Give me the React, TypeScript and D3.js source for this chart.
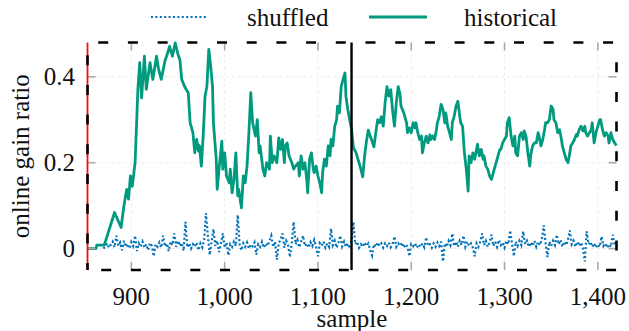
import * as d3 from 'd3';

// historical: [sample, online gain ratio]
const historical: [number, number][] = [
  [853, 0.0], [862, 0.0], [863, 0.008], [871, 0.008], [882, 0.084], [889, 0.049], [892, 0.099],
  [895, 0.138], [897, 0.115], [899, 0.169], [901, 0.145], [904, 0.2], [907, 0.371], [909, 0.433],
  [911, 0.351], [914, 0.448], [916, 0.371], [920, 0.433], [923, 0.394], [927, 0.448], [929, 0.42],
  [932, 0.394], [936, 0.437], [939, 0.456], [941, 0.471], [944, 0.448], [947, 0.479], [950, 0.452],
  [952, 0.44], [954, 0.394], [957, 0.378], [959, 0.37], [961, 0.363], [963, 0.293], [966, 0.27],
  [968, 0.223], [970, 0.254], [972, 0.227], [973, 0.24], [975, 0.192], [977, 0.262], [979, 0.355],
  [981, 0.378], [983, 0.464], [985, 0.425], [987, 0.378], [988, 0.293], [991, 0.208], [992, 0.138],
  [994, 0.185], [997, 0.25], [998, 0.185], [1000, 0.223], [1002, 0.169], [1005, 0.153], [1006, 0.185],
  [1008, 0.13], [1010, 0.161], [1012, 0.223], [1014, 0.123], [1015, 0.138], [1018, 0.095], [1020, 0.169],
  [1022, 0.153], [1024, 0.192], [1026, 0.27], [1028, 0.363], [1030, 0.293], [1033, 0.262], [1035, 0.3],
  [1037, 0.223], [1038, 0.239], [1041, 0.185], [1043, 0.169], [1045, 0.2], [1048, 0.185], [1049, 0.262],
  [1051, 0.2], [1053, 0.216], [1056, 0.2], [1058, 0.258], [1060, 0.231], [1062, 0.254], [1064, 0.2],
  [1065, 0.239], [1067, 0.246], [1069, 0.216], [1072, 0.2], [1074, 0.185], [1076, 0.192], [1079, 0.2],
  [1080, 0.169], [1082, 0.216], [1084, 0.185], [1086, 0.2], [1088, 0.161], [1089, 0.13], [1091, 0.208],
  [1093, 0.223], [1095, 0.185], [1096, 0.177], [1098, 0.192], [1100, 0.169], [1102, 0.153], [1104, 0.13],
  [1105, 0.177], [1107, 0.208], [1109, 0.192], [1111, 0.239], [1113, 0.216], [1114, 0.254], [1116, 0.239],
  [1118, 0.285], [1120, 0.3], [1121, 0.332], [1123, 0.316], [1125, 0.378], [1127, 0.394], [1129, 0.409],
  [1130, 0.355], [1132, 0.324], [1134, 0.3], [1136, 0.278], [1138, 0.235], [1141, 0.222], [1144, 0.2],
  [1146, 0.185], [1148, 0.167], [1150, 0.216], [1152, 0.25], [1154, 0.276], [1156, 0.262], [1158, 0.25],
  [1160, 0.237], [1162, 0.27], [1164, 0.3], [1166, 0.293], [1168, 0.307], [1170, 0.285], [1172, 0.34],
  [1174, 0.377], [1176, 0.355], [1178, 0.37], [1180, 0.322], [1182, 0.285], [1184, 0.34], [1186, 0.377],
  [1188, 0.36], [1189, 0.332], [1192, 0.316], [1195, 0.293], [1196, 0.27], [1198, 0.281], [1200, 0.27],
  [1202, 0.293], [1204, 0.281], [1205, 0.293], [1207, 0.27], [1209, 0.254], [1211, 0.262], [1212, 0.223],
  [1214, 0.246], [1216, 0.262], [1218, 0.246], [1220, 0.265], [1221, 0.254], [1223, 0.262], [1225, 0.254],
  [1227, 0.277], [1228, 0.293], [1230, 0.308], [1232, 0.336], [1234, 0.324], [1236, 0.293], [1237, 0.316],
  [1239, 0.285], [1241, 0.27], [1243, 0.254], [1244, 0.293], [1246, 0.308], [1248, 0.332], [1250, 0.343],
  [1252, 0.308], [1253, 0.293], [1255, 0.285], [1257, 0.223], [1259, 0.185], [1261, 0.134], [1262, 0.216],
  [1264, 0.2], [1266, 0.223], [1268, 0.208], [1270, 0.231], [1271, 0.243], [1273, 0.216], [1275, 0.231],
  [1277, 0.208], [1278, 0.216], [1280, 0.192], [1282, 0.185], [1284, 0.169], [1286, 0.161], [1287, 0.169],
  [1289, 0.185], [1291, 0.2], [1293, 0.216], [1295, 0.231], [1296, 0.231], [1298, 0.246], [1300, 0.254],
  [1302, 0.262], [1303, 0.293], [1305, 0.305], [1307, 0.262], [1309, 0.239], [1311, 0.262], [1312, 0.223],
  [1314, 0.216], [1316, 0.262], [1318, 0.27], [1320, 0.254], [1321, 0.274], [1323, 0.262], [1325, 0.223],
  [1327, 0.192], [1328, 0.216], [1330, 0.239], [1332, 0.246], [1334, 0.246], [1336, 0.27], [1337, 0.262],
  [1339, 0.239], [1341, 0.254], [1343, 0.278], [1344, 0.293], [1346, 0.293], [1348, 0.3], [1350, 0.332],
  [1352, 0.324], [1353, 0.3], [1355, 0.293], [1357, 0.27], [1359, 0.277], [1361, 0.254], [1362, 0.239],
  [1364, 0.223], [1366, 0.208], [1368, 0.2], [1370, 0.223], [1371, 0.239], [1373, 0.246], [1375, 0.254],
  [1377, 0.266], [1378, 0.262], [1380, 0.277], [1382, 0.285], [1384, 0.274], [1386, 0.285], [1387, 0.27],
  [1389, 0.262], [1391, 0.27], [1393, 0.277], [1394, 0.293], [1396, 0.246], [1398, 0.27], [1400, 0.285],
  [1402, 0.3], [1403, 0.3], [1405, 0.277], [1407, 0.262], [1409, 0.27], [1411, 0.262], [1412, 0.246],
  [1414, 0.27], [1416, 0.254], [1418, 0.246], [1420, 0.24],
];

// shuffled: one value every 2 samples from 870
const shuffledStart = 870;
const shuffledStep = 2;
const shuffledValues = [
  0.0, 0.004, 0.012, 0.002, 0.009, 0.016, 0.003, 0.03, 0.006, 0.014,
  -0.004, 0.018, 0.004, 0.011, 0.0, 0.015, 0.006, 0.03, -0.006, 0.012,
  0.004, 0.016, 0.002, 0.01, -0.004, 0.013, 0.006, -0.018, 0.01, 0.004,
  0.014, 0.002, 0.03, 0.005, 0.012, -0.006, 0.016, 0.008, 0.035, 0.004,
  0.018, 0.006, 0.013, -0.005, 0.062, 0.003, 0.012, 0.0, 0.01, 0.004,
  0.014, -0.004, 0.012, 0.003, 0.02, 0.082, 0.03, -0.015, 0.016, 0.045,
  0.006, 0.018, -0.008, 0.012, 0.035, 0.002, 0.014, -0.016, 0.01, 0.004,
  0.016, 0.006, 0.078, 0.01, -0.004, 0.012, 0.004, 0.014, 0.0, 0.01,
  0.005, 0.014, -0.014, 0.01, 0.004, 0.016, 0.002, 0.012, 0.006, 0.018,
  0.03, 0.004, 0.016, -0.026, 0.012, 0.022, 0.035, 0.002, 0.018, 0.008,
  -0.02, 0.014, 0.062, 0.01, 0.02, 0.003, 0.016, 0.03, 0.006, 0.012,
  0.002, 0.015, 0.006, 0.02, 0.004, -0.018, 0.012, 0.006, 0.016, 0.002,
  0.012, 0.004, 0.046, 0.008, 0.018, 0.002, 0.014, 0.03, 0.005, 0.016,
  0.004, 0.012, 0.0, 0.02, 0.062, 0.01, 0.016, 0.002, 0.01, 0.004,
  0.014, 0.006, 0.012, -0.004, -0.016, 0.01, 0.004, 0.014, 0.006, 0.012,
  0.002, 0.012, 0.006, 0.014, 0.003, 0.01, 0.028, 0.004, 0.012, 0.006,
  0.014, 0.002, 0.01, 0.004, -0.018, 0.01, 0.005, 0.012, 0.002, 0.01,
  0.004, 0.012, 0.003, 0.026, 0.006, 0.01, 0.002, 0.012, 0.004, 0.014,
  0.006, 0.016, -0.03, 0.012, 0.004, 0.018, 0.008, 0.035, 0.006, 0.016,
  0.004, 0.018, 0.008, 0.03, 0.004, 0.016, 0.006, 0.012, 0.002, -0.018,
  0.012, 0.004, 0.016, 0.035, 0.008, 0.018, 0.004, 0.014, 0.032, 0.006,
  0.016, 0.004, 0.02, 0.008, 0.014, 0.002, 0.018, 0.01, 0.042, 0.012,
  -0.018, 0.016, 0.006, 0.018, 0.008, 0.04, 0.01, 0.018, 0.004, 0.014,
  0.006, 0.018, 0.004, 0.016, 0.008, 0.022, 0.054, 0.012, -0.02, 0.016,
  0.006, 0.018, 0.008, 0.032, 0.01, 0.02, 0.004, 0.016, 0.008, 0.02,
  0.042, 0.01, 0.018, 0.004, 0.016, 0.006, 0.014, 0.002, -0.03, 0.04,
  0.01, 0.016, 0.004, 0.012, 0.002, 0.01, 0.004, 0.028, 0.006, 0.012,
  0.002, 0.01, 0.004, 0.032, 0.008, 0.012,
];

const xTicks = [900, 1000, 1100, 1200, 1300, 1400];
const yTicks = [0, 0.2, 0.4];
const xDomain = [853, 1420];
const yDomain = [-0.05, 0.48];
const redMarker = 853;
const blackMarker = 1136;
const legendItems = ['shuffled', 'historical'];

const GREEN = '#009a7e';
const BLUE = '#0072b8';
const W = 629;
const H = 331;
const m = { top: 42.5, right: 12.5, bottom: 61, left: 87.5 };
const font = { fontFamily: "'Liberation Serif'", fontSize: 25, fill: '#111' };

export default function App() {
  const x0 = m.left;
  const x1 = W - m.right;
  const y0 = m.top;
  const y1 = H - m.bottom;
  const x = d3.scaleLinear().domain(xDomain).range([x0, x1]);
  const y = d3.scaleLinear().domain(yDomain).range([y1, y0]);
  const line = d3
    .line<[number, number]>()
    .x((d) => x(d[0]))
    .y((d) => y(d[1]));
  const shuffled = shuffledValues.map((v, i) => [shuffledStart + i * shuffledStep, v] as [number, number]);
  const fx = d3.format(',');
  const fy = d3.format('~g');
  const dash = '10 19.7';

  return (
    <svg width={W} height={H} style={{ position: 'absolute', left: 0, top: 0, background: '#fff' }}>
      <g stroke="#ebebeb" strokeWidth={1} strokeDasharray="3 3">
        {xTicks.map((t) => (
          <line key={'gx' + t} x1={x(t)} x2={x(t)} y1={y0} y2={y1} />
        ))}
        {yTicks.map((t) => (
          <line key={'gy' + t} x1={x0} x2={x1} y1={y(t)} y2={y(t)} />
        ))}
      </g>

      <path d={line(shuffled) || ''} fill="none" stroke={BLUE} strokeWidth={2.2} strokeDasharray="2 2.4" />
      <path d={line(historical) || ''} fill="none" stroke={GREEN} strokeWidth={2.8} strokeLinejoin="round" />

      <g stroke="#aaaaaa" strokeWidth={1.6}>
        {xTicks.map((t) => (
          <g key={'tx' + t}>
            <line x1={x(t)} x2={x(t)} y1={y1} y2={y1 - 8} />
            <line x1={x(t)} x2={x(t)} y1={y0} y2={y0 + 8} />
          </g>
        ))}
        {yTicks.map((t) => (
          <g key={'ty' + t}>
            <line x1={x0} x2={x0 + 8} y1={y(t)} y2={y(t)} />
            <line x1={x1} x2={x1 - 8} y1={y(t)} y2={y(t)} />
          </g>
        ))}
      </g>

      <line x1={x(redMarker)} x2={x(redMarker)} y1={y0} y2={y1} stroke="#ee1111" strokeWidth={1.8} />

      <g stroke="#000" strokeWidth={2.6} strokeDasharray={dash}>
        <line x1={x0} x2={x1} y1={y0} y2={y0} strokeDashoffset={19} />
        <line x1={x0} x2={x1} y1={y1} y2={y1} strokeDashoffset={16} />
        <line x1={x0} x2={x0} y1={y0} y2={y1} strokeDashoffset={17} />
        <line x1={x1} x2={x1} y1={y0} y2={y1} strokeDashoffset={10} />
      </g>

      <line x1={x(blackMarker)} x2={x(blackMarker)} y1={y0} y2={y1} stroke="#000" strokeWidth={2.4} />

      {xTicks.map((t) => (
        <text key={'lx' + t} x={x(t)} y={305} textAnchor="middle" style={font}>
          {fx(t)}
        </text>
      ))}
      {yTicks.map((t) => (
        <text key={'ly' + t} x={75} y={y(t) + 8.5} textAnchor="end" style={font}>
          {fy(t)}
        </text>
      ))}

      <text x={(x0 + x1) / 2} y={327} textAnchor="middle" style={font}>
        sample
      </text>
      <text transform={`translate(29,${(y0 + y1) / 2}) rotate(-90)`} textAnchor="middle" style={font}>
        online gain ratio
      </text>

      <line x1={151} x2={208} y1={17} y2={17} stroke={BLUE} strokeWidth={2.2} strokeDasharray="2 2.4" />
      <text x={247} y={26} style={font}>
        {legendItems[0]}
      </text>
      <line x1={369} x2={427} y1={17} y2={17} stroke={GREEN} strokeWidth={2.8} />
      <text x={464} y={26} style={font}>
        {legendItems[1]}
      </text>
    </svg>
  );
}
